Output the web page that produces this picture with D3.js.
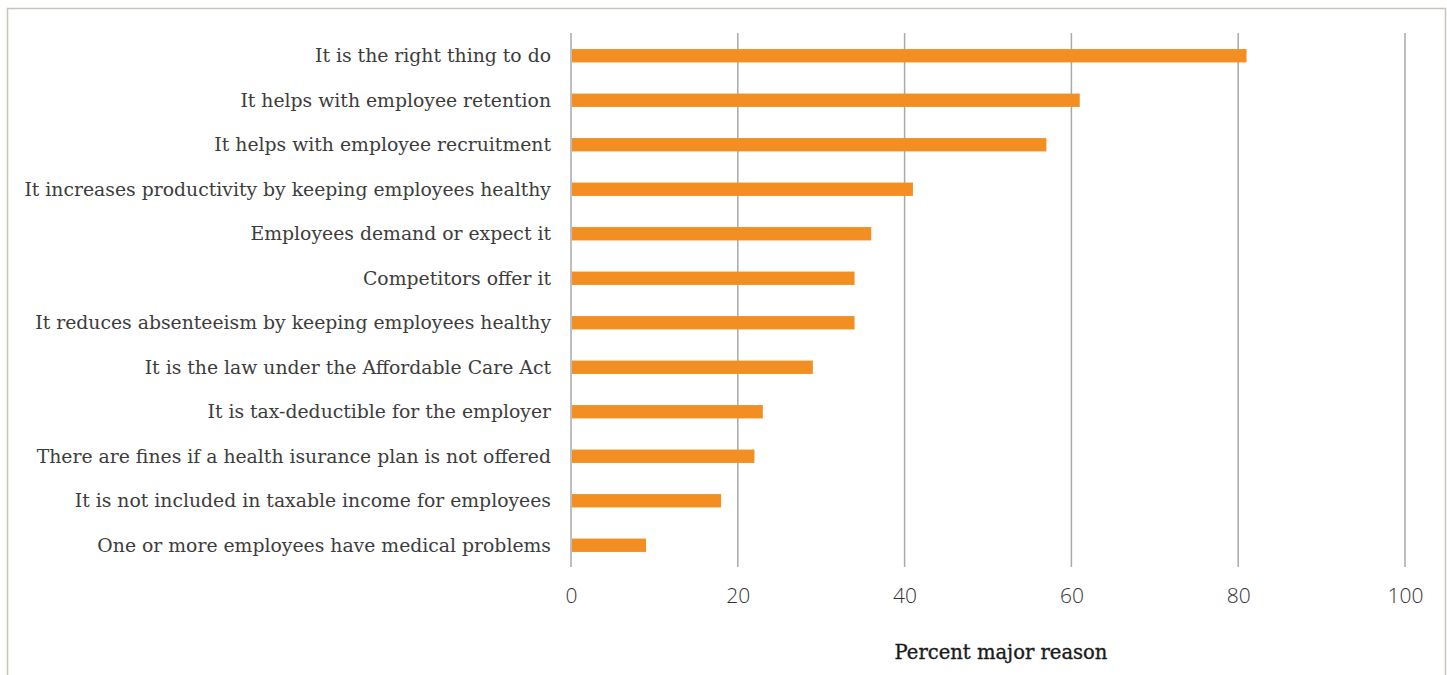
<!DOCTYPE html>
<html>
<head>
<meta charset="utf-8">
<script src="https://cdn.jsdelivr.net/npm/d3@7"></script>
<style>
  html, body { margin: 0; padding: 0; background: #fff; }
  svg { display: block; }
</style>
</head>
<body>
<svg id="chart" width="1447" height="675"></svg>
<script>
const categories = [
  "It is the right thing to do",
  "It helps with employee retention",
  "It helps with employee recruitment",
  "It increases productivity by keeping employees healthy",
  "Employees demand or expect it",
  "Competitors offer it",
  "It reduces absenteeism by keeping employees healthy",
  "It is the law under the Affordable Care Act",
  "It is tax-deductible for the employer",
  "There are fines if a health isurance plan is not offered",
  "It is not included in taxable income for employees",
  "One or more employees have medical problems"
];
const values = [81, 61, 57, 41, 36, 34, 34, 29, 23, 22, 18, 9];
const xTicks = [0, 20, 40, 60, 80, 100];
const axisTitle = "Percent major reason";

const svg = d3.select("#chart");
const labelFont = "'DejaVu Serif', 'Liberation Serif', serif";

// frame around the figure
svg.append("rect")
  .attr("x", 7.5).attr("y", 8.5)
  .attr("width", 1438).attr("height", 700)
  .attr("fill", "none")
  .attr("stroke", "#c9c3bc")
  .attr("stroke-width", 1.5);

const x = d3.scaleLinear().domain([0, 100]).range([571, 1405]);
const y = d3.scaleBand().domain(categories).range([33.5, 567.5]).paddingInner(0.7).paddingOuter(0.35);

// vertical gridlines (including the zero baseline)
svg.append("g")
  .selectAll("line")
  .data(xTicks)
  .join("line")
  .attr("x1", d => x(d)).attr("x2", d => x(d))
  .attr("y1", 33).attr("y2", 567)
  .attr("stroke", "#a9a9a9")
  .attr("stroke-width", 1.5);

// bars
svg.append("g")
  .selectAll("rect")
  .data(values)
  .join("rect")
  .attr("x", x(0) + 1)
  .attr("y", (d, i) => y(categories[i]))
  .attr("width", d => x(d) - x(0) - 1)
  .attr("height", y.bandwidth())
  .attr("fill", "#f28e22");

// category labels, sized so the longest one spans the left margin
const labels = svg.append("g")
  .selectAll("text")
  .data(categories)
  .join("text")
  .attr("x", 551)
  .attr("y", d => y(d) + y.bandwidth() / 2)
  .attr("dy", "0.35em")
  .attr("text-anchor", "end")
  .attr("font-family", labelFont)
  .attr("font-size", 18)
  .attr("fill", "#3c3c3c")
  .text(d => d);
const widest = d3.max(labels.nodes(), n => n.getComputedTextLength());
const labelSize = Math.min(19.5, 18 * 527 / widest);
labels.attr("font-size", labelSize);

// x axis tick labels
const xAxis = d3.axisBottom(x).tickValues(xTicks).tickSize(0).tickPadding(0);
const gx = svg.append("g").attr("transform", "translate(0,596)").call(xAxis);
gx.select(".domain").remove();
gx.selectAll("text")
  .attr("font-family", "'Open Sans', 'Liberation Sans', sans-serif")
  .attr("font-size", 21)
  .attr("font-weight", 300)
  .attr("fill", "#333")
  .attr("dy", "0.35em");

// axis title
svg.append("text")
  .attr("x", 1001)
  .attr("y", 659)
  .attr("text-anchor", "middle")
  .attr("font-family", labelFont)
  .attr("font-size", labelSize * 1.04)
  .attr("fill", "#1a1a1a")
  .attr("stroke", "#1a1a1a")
  .attr("stroke-width", 0.35)
  .text(axisTitle);
</script>
</body>
</html>
